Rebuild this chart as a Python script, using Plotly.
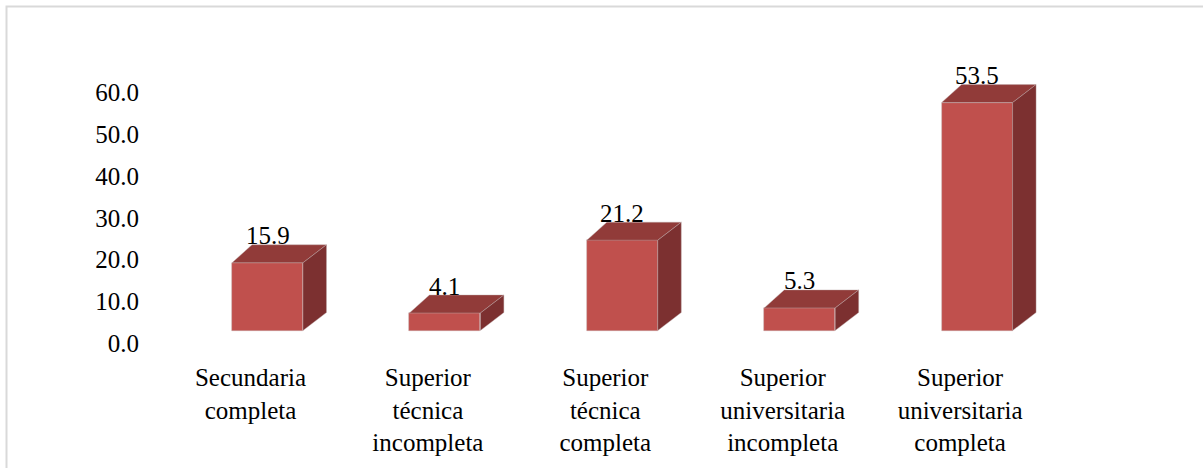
import plotly.graph_objects as go

categories = ["Secundaria<br>completa", "Superior<br>técnica<br>incompleta",
              "Superior<br>técnica<br>completa", "Superior<br>universitaria<br>incompleta",
              "Superior<br>universitaria<br>completa"]
values = [15.9, 4.1, 21.2, 5.3, 53.5]
value_labels = ["15.9", "4.1", "21.2", "5.3", "53.5"]
y_ticks = [0, 10, 20, 30, 40, 50, 60]
y_tick_labels = ["0.0", "10.0", "20.0", "30.0", "40.0", "50.0", "60.0"]

FRONT = "#C0504D"
TOP = "#913B39"
SIDE = "#7C3030"
EDGE = "rgba(190,170,170,0.7)"
FONT = "Liberation Serif"
FS = 25

W, H = 1203, 468
L, R, T, B = 150, 100, 68, 108
plot_w = W - L - R
plot_h = H - T - B
bottom_px = H - B
px_per_cat = 177.4
px_per_unit = 4.26
base_px = 330.5          # pixel row of the bars' front base
x0 = -(267.5 - L) / px_per_cat
x1 = x0 + plot_w / px_per_cat
y2_lo = -(bottom_px - base_px) / px_per_unit
y2_hi = (base_px - T) / px_per_unit

bar_w = 0.4
dxl = 20 / px_per_cat
dxr = 23.5 / px_per_cat
dy = 18 / px_per_unit

fig = go.Figure()
xs = list(range(len(values)))

# invisible trace so the labelled value axis is drawn
fig.add_trace(go.Scatter(x=[None], y=[None], yaxis="y", mode="markers",
                         hoverinfo="skip", showlegend=False))

# front faces
fig.add_trace(go.Bar(x=xs, y=values, width=bar_w, marker=dict(color=FRONT, line=dict(color=EDGE, width=0.6)),
                     yaxis="y2", hoverinfo="skip", showlegend=False))

# top and side faces derived from values
for i, v in zip(xs, values):
    l_ = i - bar_w / 2
    r_ = i + bar_w / 2
    fig.add_trace(go.Scatter(
        x=[l_, l_ + dxl, r_ + dxr, r_, l_], y=[v, v + dy, v + dy, v, v],
        fill="toself", fillcolor=TOP, mode="lines", line=dict(color=EDGE, width=0.6),
        yaxis="y2", hoverinfo="skip", showlegend=False))
    fig.add_trace(go.Scatter(
        x=[r_, r_ + dxr, r_ + dxr, r_, r_], y=[0, dy, v + dy, v, 0],
        fill="toself", fillcolor=SIDE, mode="lines", line=dict(color=EDGE, width=0.6),
        yaxis="y2", hoverinfo="skip", showlegend=False))

# value labels
for i, v, t in zip(xs, values, value_labels):
    fig.add_annotation(x=i, y=v, xref="x", yref="y2", text=t, showarrow=False,
                       yanchor="middle", yshift=27, font=dict(family=FONT, size=FS, color="black"))

# border
fig.add_shape(type="rect", xref="paper", yref="paper",
              x0=(6.5 - L) / plot_w, x1=(W + 50 - L) / plot_w,
              y0=-(B + 50) / plot_h, y1=(H - B - 6.5) / plot_h,
              line=dict(color="#D9D9D9", width=2), fillcolor="rgba(0,0,0,0)", layer="below")

lab_unit = 4.175
lab_zero = 343
y_lo = -(bottom_px - lab_zero) / lab_unit
y_hi = (lab_zero - T) / lab_unit

fig.update_layout(
    width=W, height=H, margin=dict(l=L, r=R, t=T, b=B, pad=0),
    paper_bgcolor="white", plot_bgcolor="white",
    font=dict(family=FONT, size=FS, color="black"),
    xaxis=dict(range=[x0, x1], tickvals=xs, ticktext=categories, showgrid=False,
               zeroline=False, showline=False, ticks="", ticklabelshift=-17,
               ticklabelstandoff=0, tickfont=dict(family=FONT, size=FS, color="black")),
    yaxis=dict(range=[y_lo, y_hi], tickvals=y_ticks, ticktext=y_tick_labels, showgrid=False,
               zeroline=False, showline=False, ticks="", ticklabelstandoff=10,
               tickfont=dict(family=FONT, size=FS, color="black")),
    yaxis2=dict(range=[y2_lo, y2_hi], overlaying="y", visible=False, showgrid=False, zeroline=False),
    bargap=0, showlegend=False,
)

fig.write_html("out.html")
